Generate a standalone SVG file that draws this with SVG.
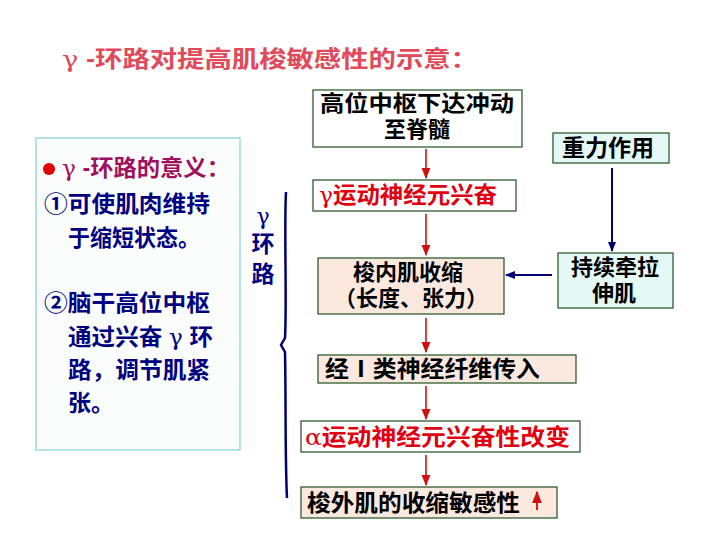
<svg xmlns="http://www.w3.org/2000/svg" width="720" height="540" viewBox="0 0 720 540">
<defs>
<style>
text{font-family:"Liberation Sans","Noto Sans CJK SC",sans-serif;font-weight:bold;font-size:23px}
.g{font-family:"DejaVu Serif",serif;font-weight:normal}
.box{stroke:#2e5e2e;stroke-width:1.3}
.w{fill:#ffffff}.p{fill:#fbe9df}.c{fill:#e4f8f6}
.red{fill:#e00010}.blk{fill:#000}.nav{fill:#000080}
.two{font-size:22px}
.ra{stroke:#d01010;stroke-width:1.6;fill:none}
.na{stroke:#000070;stroke-width:2;fill:none}
</style>
<marker id="mr" viewBox="0 0 10 10" refX="9" refY="5" markerWidth="7" markerHeight="7" orient="auto"><path d="M0,1 L10,5 L0,9 z" fill="#d01010"/></marker>
<marker id="mn" viewBox="0 0 10 10" refX="9" refY="5" markerWidth="5" markerHeight="5" orient="auto"><path d="M0,1 L10,5 L0,9 z" fill="#000070"/></marker>
</defs>
<rect width="720" height="540" fill="#fff"/>
<text x="62" y="67" font-size="25" fill="#e04a5a" textLength="416" lengthAdjust="spacingAndGlyphs"><tspan class="g">γ</tspan> -环路对提高肌梭敏感性的示意：</text>

<g id="panel">
<rect x="36" y="138" width="204" height="312" fill="#fbfdfd" stroke="#80d4d0" stroke-width="1.2"/>
<circle cx="49" cy="169" r="6" fill="#e00000"/>
<text x="62" y="176" fill="#a01060" textLength="168" lengthAdjust="spacingAndGlyphs"><tspan class="g">γ</tspan> -环路的意义：</text>
<text x="44" y="212" class="nav" textLength="166" lengthAdjust="spacingAndGlyphs">①可使肌肉维持</text>
<text x="68" y="246" class="nav" textLength="132" lengthAdjust="spacingAndGlyphs">于缩短状态。</text>
<text x="44" y="311" class="nav" textLength="166" lengthAdjust="spacingAndGlyphs">②脑干高位中枢</text>
<text x="68" y="345" class="nav" textLength="145" lengthAdjust="spacingAndGlyphs">通过兴奋 <tspan class="g">γ</tspan> 环</text>
<text x="68" y="378" class="nav" textLength="142" lengthAdjust="spacingAndGlyphs">路，调节肌紧</text>
<text x="68" y="411" class="nav">张。</text>
</g>

<g id="loop-label">
<text class="nav" font-size="21" text-anchor="middle"><tspan x="263" y="224" class="g" font-size="22">γ</tspan><tspan x="263" y="252">环</tspan><tspan x="263" y="282">路</tspan></text>
</g>

<g id="n1"><rect class="box w" x="313" y="90" width="209" height="57"/>
<text class="blk two" text-anchor="middle"><tspan x="417" y="111" textLength="194" lengthAdjust="spacingAndGlyphs">高位中枢下达冲动</tspan><tspan x="417" y="137">至脊髓</tspan></text></g>
<g id="n2"><rect class="box w" x="313" y="180" width="203" height="31"/>
<text x="319" y="203" class="red" textLength="178" lengthAdjust="spacingAndGlyphs"><tspan class="g">γ</tspan>运动神经元兴奋</text></g>
<g id="n3"><rect class="box p" x="318" y="258" width="186" height="56"/>
<text class="blk two" text-anchor="middle"><tspan x="408" y="280">梭内肌收缩</tspan><tspan x="411" y="306">（长度、张力）</tspan></text></g>
<g id="n4"><rect class="box p" x="318" y="355" width="258" height="28"/>
<text x="325" y="377" class="blk" textLength="215" lengthAdjust="spacingAndGlyphs">经Ⅰ类神经纤维传入</text></g>
<g id="n5"><rect class="box w" x="301" y="421" width="279" height="31"/>
<text x="305" y="445" class="red" textLength="265" lengthAdjust="spacingAndGlyphs"><tspan class="g">α</tspan>运动神经元兴奋性改变</text></g>
<g id="n6"><rect class="box p" x="301" y="487" width="256" height="31"/>
<text x="307" y="511" class="blk" textLength="213" lengthAdjust="spacingAndGlyphs">梭外肌的收缩敏感性</text></g>
<g id="n7"><rect class="box c" x="553" y="133" width="116" height="30"/>
<text x="608" y="156" class="blk" text-anchor="middle">重力作用</text></g>
<g id="n8"><rect class="box c" x="558" y="253" width="115" height="55"/>
<text class="blk two" text-anchor="middle"><tspan x="615" y="275">持续牵拉</tspan><tspan x="614" y="301">伸肌</tspan></text></g>

<g id="connectors">
<path class="ra" d="M426,149 V178" marker-end="url(#mr)"/>
<path class="ra" d="M426,214 V255" marker-end="url(#mr)"/>
<path class="ra" d="M426,318 V352" marker-end="url(#mr)"/>
<path class="ra" d="M426,386 V419" marker-end="url(#mr)"/>
<path class="ra" d="M426,455 V485" marker-end="url(#mr)"/>
<path class="na" d="M612,168 V251" marker-end="url(#mn)"/>
<path class="na" d="M552,275 H506" marker-end="url(#mn)"/>
<path d="M286,192 C284,230 287,300 285,338 L281,345 L285,352 C286,400 285,460 287,498" fill="none" stroke="#000070" stroke-width="2.5"/>
<path d="M537,510 V492" stroke="#e00010" stroke-width="1.8" marker-end="url(#mr)"/>
</g>
</svg>
